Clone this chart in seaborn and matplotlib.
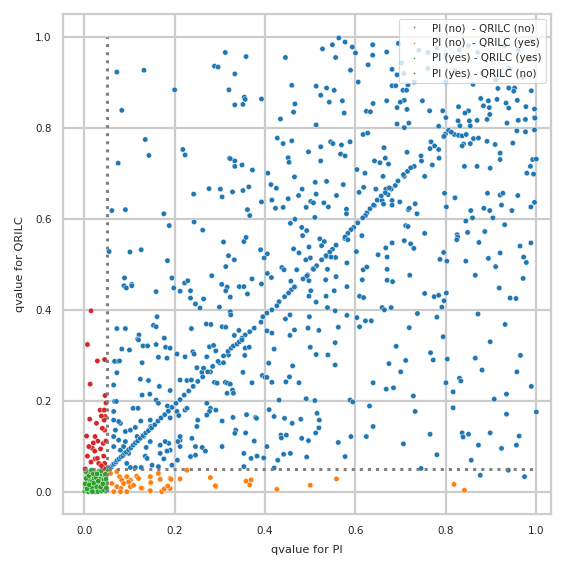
import numpy as np
import pandas as pd
import matplotlib
matplotlib.use("Agg")
import matplotlib.pyplot as plt
import seaborn as sns

# category names (legend order)
cats = ["PI (no)  - QRILC (no)", "PI (no)  - QRILC (yes)",
        "PI (yes) - QRILC (yes)", "PI (yes) - QRILC (no)"]

# PI (no) - QRILC (no): qvalue PI / qvalue QRILC
blue_pi = [
    0.072, 0.132, 0.200, 0.312, 0.288, 0.296, 0.320, 0.083, 0.135, 0.143, 0.218, 0.223, 0.075, 0.321,
    0.358, 0.333, 0.354, 0.356, 0.351, 0.333, 0.392, 0.445, 0.459, 0.466, 0.463, 0.434, 0.513,
    0.513, 0.536, 0.553, 0.523, 0.542, 0.571, 0.575,
    0.527, 0.549, 0.563, 0.577, 0.593, 0.600, 0.556, 0.589, 0.606,
    0.638, 0.638, 0.669, 0.628, 0.639, 0.669, 0.624, 0.633, 0.617, 0.627,
    0.427, 0.440, 0.459, 0.451, 0.453, 0.496, 0.523, 0.545, 0.550, 0.569, 0.588, 0.567, 0.577, 0.523,
    0.323, 0.333, 0.333, 0.349, 0.372, 0.406, 0.465, 0.603, 0.621,
    0.663, 0.666, 0.642, 0.654, 0.673, 0.661,
    # upper right
    0.695, 0.702, 0.681, 0.692, 0.707, 0.681, 0.689, 0.705, 0.716, 0.713,
    0.708, 0.699, 0.692, 0.714, 0.748, 0.764, 0.793, 0.828, 0.850, 0.842,
    0.877, 0.894, 0.913, 0.933, 0.958, 0.977, 0.996, 0.883, 0.896, 0.939,
    0.915, 0.939, 0.952, 0.989, 0.996, 0.692, 0.708, 0.718,
    0.784, 0.800, 0.827, 0.831, 0.854, 0.852, 0.869, 0.891, 0.897,
    0.935, 0.960, 0.976, 0.997, 0.957, 0.976, 0.996,
    0.799, 0.806, 0.819, 0.828, 0.836, 0.845, 0.861, 0.872, 0.839, 0.854, 0.836, 0.795,
    0.891, 0.909, 0.920, 0.948, 0.767, 0.775, 0.784, 0.785,
    0.714, 0.746, 0.730, 0.715, 0.708, 0.753, 0.770,
    0.841, 0.869, 0.898, 0.920, 0.992, 0.987, 0.979, 0.994, 1.000,
    # behind the legend
    0.740, 0.760, 0.780, 0.800, 0.830, 0.850, 0.870, 0.900, 0.930, 0.960, 0.985,
    0.760, 0.820, 0.880, 0.940, 0.970, 0.730, 0.800, 0.860, 0.910, 0.990, 0.950,
    # left middle
    0.061, 0.091, 0.176, 0.242, 0.276, 0.301, 0.305, 0.188, 0.243, 0.262, 0.308, 0.319, 0.313,
    0.055, 0.101, 0.126, 0.184, 0.089, 0.088, 0.093, 0.105, 0.105,
    0.194, 0.198, 0.212, 0.222, 0.229, 0.235, 0.159, 0.282, 0.304, 0.316, 0.313,
    0.235, 0.246, 0.256, 0.264, 0.299, 0.161, 0.153, 0.159, 0.072, 0.091, 0.121, 0.118, 0.177,
    0.237, 0.270, 0.280, 0.305, 0.313,
    # centre
    0.328, 0.351, 0.364, 0.361, 0.366,
    0.413, 0.425, 0.392, 0.415, 0.423, 0.440, 0.451, 0.474, 0.482, 0.511, 0.536, 0.513, 0.501, 0.507,
    0.491, 0.530, 0.540, 0.510, 0.558, 0.573,
    0.608, 0.618, 0.645, 0.667, 0.672, 0.659, 0.662, 0.642, 0.580, 0.580,
    0.625, 0.622, 0.616, 0.605, 0.596, 0.590, 0.583, 0.576, 0.557, 0.549, 0.543, 0.535, 0.525, 0.514,
    0.506, 0.494, 0.491, 0.465, 0.458, 0.452, 0.443, 0.431, 0.426, 0.415, 0.404, 0.395, 0.391, 0.376,
    0.366, 0.356, 0.349,
    0.456, 0.466, 0.481, 0.492, 0.483, 0.521, 0.531, 0.525, 0.463, 0.475, 0.497, 0.500, 0.490, 0.507,
    0.538, 0.556, 0.546, 0.535, 0.577, 0.583, 0.602, 0.614, 0.581,
    0.353, 0.358, 0.332, 0.390, 0.405, 0.398, 0.437, 0.442, 0.470, 0.405, 0.414, 0.371, 0.343, 0.353,
    0.361, 0.392, 0.457, 0.465, 0.484, 0.493, 0.497, 0.501, 0.497, 0.513, 0.535, 0.534, 0.557, 0.553,
    0.581, 0.538, 0.555, 0.581, 0.323, 0.323, 0.324,
    0.617, 0.625, 0.615, 0.609, 0.618, 0.667, 0.650, 0.670, 0.670, 0.670, 0.659, 0.664, 0.603, 0.609,
    0.622, 0.635, 0.562, 0.519, 0.495, 0.498, 0.455, 0.445, 0.465, 0.455, 0.415, 0.404, 0.332, 0.342,
    # right middle
    0.679, 0.688, 0.681, 0.681, 0.698, 0.717, 0.719, 0.732, 0.736,
    0.797, 0.820, 0.801, 0.855, 0.859, 0.844, 0.897, 0.904, 0.884, 0.892, 0.920, 0.926, 0.959, 0.923,
    0.946, 0.988, 0.996, 0.930, 0.886, 0.848,
    0.711, 0.716, 0.753, 0.825, 0.826, 0.824, 0.873, 0.988, 0.964, 0.920, 0.972, 0.978, 0.681, 0.708,
    0.722, 0.729, 0.795, 0.787, 0.802, 0.844, 0.894, 0.910, 0.865, 0.918, 0.971, 0.942, 0.955, 0.720,
    0.682, 0.753, 0.774, 0.784, 0.801, 0.796, 0.791, 0.679, 0.737, 0.780, 0.719, 0.871, 0.931, 0.794,
    0.632, 0.640, 0.648, 0.657, 0.666, 0.675, 0.694, 0.706, 0.722, 0.745, 0.765, 0.796, 0.812,
    # lower left
    0.083, 0.100, 0.120, 0.130, 0.140, 0.159, 0.180, 0.190, 0.205, 0.223, 0.240, 0.243, 0.277, 0.286,
    0.291, 0.271, 0.299, 0.308, 0.319, 0.164, 0.183, 0.074, 0.067, 0.078, 0.072, 0.128, 0.065, 0.124,
    0.142, 0.166, 0.190, 0.212, 0.227, 0.237, 0.249, 0.260, 0.264, 0.279, 0.288, 0.294, 0.312, 0.317,
    0.316, 0.271, 0.249, 0.279, 0.277, 0.305, 0.305, 0.246, 0.238, 0.212, 0.212, 0.207, 0.187, 0.190,
    0.168, 0.146, 0.135, 0.139, 0.150, 0.164, 0.126, 0.113, 0.102, 0.094, 0.087, 0.080, 0.076, 0.065,
    0.069, 0.080, 0.076, 0.091, 0.102, 0.113, 0.125, 0.146, 0.147, 0.119, 0.128, 0.145, 0.159, 0.164,
    0.184, 0.186, 0.190, 0.205, 0.209, 0.223, 0.227, 0.271, 0.291, 0.251, 0.261, 0.268, 0.246, 0.235,
    0.212, 0.206, 0.194, 0.183, 0.176, 0.168, 0.179, 0.137, 0.087, 0.065, 0.065, 0.065, 0.067, 0.071,
    0.108, 0.117, 0.091, 0.098, 0.131,
    0.052, 0.056, 0.060, 0.063, 0.066, 0.070, 0.073, 0.077, 0.081, 0.085, 0.089, 0.093, 0.098, 0.103,
    0.108, 0.113, 0.118, 0.124, 0.130, 0.136, 0.142, 0.149, 0.156, 0.163, 0.170, 0.178, 0.186, 0.194,
    0.203, 0.212, 0.221, 0.231, 0.241, 0.251, 0.262, 0.273, 0.284, 0.296, 0.308, 0.318,
    0.325, 0.330, 0.338, 0.343, 0.349, 0.356, 0.365, 0.355,
    # lower centre
    0.351, 0.371, 0.323, 0.328, 0.330, 0.394, 0.400, 0.404, 0.415, 0.408, 0.420, 0.446, 0.454, 0.461,
    0.475, 0.500, 0.513, 0.539, 0.555, 0.555, 0.431, 0.491, 0.510, 0.588, 0.594, 0.631, 0.639, 0.668,
    0.674, 0.329, 0.359, 0.379, 0.381, 0.335, 0.333, 0.357, 0.376, 0.409, 0.420, 0.443, 0.460, 0.479,
    0.515, 0.520, 0.519, 0.512, 0.435, 0.447, 0.436, 0.481, 0.496, 0.562, 0.590, 0.624, 0.639, 0.404,
    0.353, 0.369, 0.382, 0.397, 0.428, 0.441, 0.456, 0.492, 0.577, 0.420, 0.353,
    # lower right
    0.684, 0.700, 0.728, 0.766, 0.772, 0.800, 0.830, 0.833, 0.816, 0.816, 0.880, 0.865, 0.898, 0.907,
    0.923, 0.956, 0.962, 1.000, 0.898, 0.934, 0.850, 0.856, 0.765, 0.732, 0.706, 0.803, 0.934, 0.965,
    0.989, 0.872, 0.836, 0.838, 0.938, 0.876, 0.690, 0.745, 0.974, 0.780, 0.711, 0.957,
]
blue_qr = [
    0.922, 0.926, 0.883, 0.965, 0.935, 0.933, 0.883, 0.838, 0.774, 0.739, 0.752, 0.740, 0.722, 0.733,
    0.956, 0.918, 0.867, 0.862, 0.851, 0.850, 0.863, 0.954, 0.893, 0.852, 0.834, 0.819, 0.806,
    0.891, 0.887, 0.882, 0.871, 0.856, 0.859, 0.832,
    0.973, 0.982, 0.997, 0.988, 0.977, 0.964, 0.954, 0.926, 0.900,
    0.982, 0.959, 0.966, 0.938, 0.853, 0.859, 0.836, 0.835, 0.785, 0.788,
    0.777, 0.765, 0.771, 0.734, 0.724, 0.747, 0.758, 0.769, 0.765, 0.762, 0.769, 0.742, 0.738, 0.727,
    0.732, 0.727, 0.715, 0.718, 0.707, 0.700, 0.692, 0.708, 0.700,
    0.756, 0.733, 0.727, 0.723, 0.720, 0.693,
    0.985, 0.942, 0.928, 0.916, 0.919, 0.892, 0.892, 0.882, 0.894, 0.882,
    0.860, 0.856, 0.844, 0.840, 0.859, 0.837, 0.837, 0.846, 0.837, 0.832,
    0.864, 0.859, 0.862, 0.854, 0.860, 0.846, 0.841, 0.848, 0.844, 0.843,
    0.886, 0.887, 0.887, 0.881, 0.822, 0.808, 0.800, 0.810,
    0.803, 0.822, 0.815, 0.804, 0.804, 0.815, 0.816, 0.818, 0.829,
    0.810, 0.816, 0.818, 0.821, 0.793, 0.791, 0.795,
    0.786, 0.794, 0.785, 0.783, 0.782, 0.785, 0.776, 0.777, 0.764, 0.765, 0.760, 0.780,
    0.770, 0.763, 0.744, 0.766, 0.769, 0.760, 0.752, 0.733,
    0.746, 0.727, 0.715, 0.704, 0.693, 0.693, 0.718,
    0.715, 0.715, 0.711, 0.730, 0.730, 0.715, 0.700, 0.698, 0.731,
    0.970, 0.965, 0.975, 0.960, 0.970, 0.980, 0.965, 0.950, 0.980, 0.970, 0.950,
    0.930, 0.925, 0.920, 0.930, 0.910, 0.900, 0.900, 0.895, 0.905, 0.990, 0.880,
    0.618, 0.620, 0.611, 0.654, 0.666, 0.665, 0.648, 0.585, 0.593, 0.575, 0.549, 0.519, 0.495,
    0.528, 0.527, 0.532, 0.508, 0.470, 0.453, 0.448, 0.456, 0.453,
    0.470, 0.448, 0.441, 0.459, 0.464, 0.442, 0.440, 0.475, 0.456, 0.450, 0.442,
    0.426, 0.413, 0.404, 0.424, 0.406, 0.385, 0.366, 0.363, 0.359, 0.359, 0.345, 0.336, 0.338,
    0.359, 0.369, 0.368, 0.363, 0.362,
    0.659, 0.662, 0.670, 0.620, 0.607,
    0.675, 0.667, 0.637, 0.641, 0.623, 0.625, 0.644, 0.651, 0.665, 0.680, 0.682, 0.654, 0.638, 0.635,
    0.625, 0.635, 0.626, 0.603, 0.651, 0.675,
    0.658, 0.669, 0.665, 0.665, 0.653, 0.640, 0.632, 0.629, 0.621, 0.611,
    0.613, 0.607, 0.602, 0.591, 0.581, 0.576, 0.568, 0.557, 0.542, 0.533, 0.527, 0.517, 0.510, 0.497,
    0.491, 0.477, 0.473, 0.451, 0.444, 0.437, 0.429, 0.418, 0.409, 0.400, 0.393, 0.385, 0.373, 0.360,
    0.352, 0.345, 0.338,
    0.590, 0.599, 0.581, 0.574, 0.563, 0.556, 0.550, 0.541, 0.534, 0.525, 0.538, 0.514, 0.510, 0.489,
    0.489, 0.515, 0.516, 0.519, 0.560, 0.554, 0.528, 0.563, 0.503,
    0.550, 0.559, 0.510, 0.532, 0.523, 0.514, 0.493, 0.488, 0.488, 0.480, 0.471, 0.468, 0.451, 0.451,
    0.435, 0.457, 0.463, 0.450, 0.468, 0.475, 0.464, 0.442, 0.430, 0.417, 0.430, 0.466, 0.473, 0.442,
    0.451, 0.405, 0.398, 0.388, 0.428, 0.396, 0.389,
    0.488, 0.494, 0.466, 0.430, 0.427, 0.536, 0.521, 0.516, 0.489, 0.465, 0.405, 0.400, 0.383, 0.363,
    0.376, 0.376, 0.362, 0.355, 0.360, 0.385, 0.389, 0.380, 0.356, 0.344, 0.349, 0.354, 0.344, 0.355,
    0.665, 0.673, 0.640, 0.630, 0.637, 0.620, 0.623, 0.633, 0.611,
    0.656, 0.646, 0.626, 0.618, 0.602, 0.595, 0.618, 0.602, 0.623, 0.656, 0.652, 0.656, 0.651, 0.630,
    0.618, 0.626, 0.636, 0.587, 0.572, 0.570,
    0.585, 0.583, 0.568, 0.565, 0.560, 0.554, 0.548, 0.547, 0.540, 0.525, 0.516, 0.504, 0.547, 0.552,
    0.545, 0.535, 0.526, 0.511, 0.507, 0.507, 0.513, 0.495, 0.476, 0.448, 0.469, 0.426, 0.425, 0.476,
    0.462, 0.436, 0.429, 0.432, 0.437, 0.420, 0.406, 0.405, 0.392, 0.384, 0.361, 0.391, 0.368, 0.341,
    0.622, 0.630, 0.641, 0.650, 0.657, 0.668, 0.683, 0.697, 0.712, 0.738, 0.754, 0.781, 0.790,
    0.314, 0.312, 0.334, 0.321, 0.321, 0.324, 0.318, 0.316, 0.303, 0.297, 0.308, 0.303, 0.319, 0.322,
    0.310, 0.297, 0.284, 0.284, 0.301, 0.296, 0.294, 0.287, 0.287, 0.288, 0.262, 0.284, 0.235, 0.248,
    0.245, 0.232, 0.223, 0.246, 0.245, 0.246, 0.273, 0.263, 0.272, 0.264, 0.241, 0.239, 0.241, 0.239,
    0.217, 0.195, 0.144, 0.184, 0.177, 0.156, 0.100, 0.100, 0.118, 0.114, 0.122, 0.111, 0.107, 0.092,
    0.103, 0.111, 0.079, 0.074, 0.059, 0.056, 0.054, 0.054, 0.054, 0.063, 0.081, 0.092, 0.114, 0.122,
    0.136, 0.151, 0.155, 0.133, 0.136, 0.142, 0.156, 0.158, 0.144, 0.184, 0.213, 0.215, 0.202, 0.195,
    0.189, 0.177, 0.163, 0.177, 0.168, 0.180, 0.184, 0.169, 0.180, 0.158, 0.098, 0.090, 0.081, 0.078,
    0.100, 0.070, 0.059, 0.090, 0.073, 0.085, 0.111, 0.098, 0.100, 0.100, 0.158, 0.177, 0.199, 0.199,
    0.184, 0.122, 0.111, 0.085, 0.122,
    0.047, 0.052, 0.055, 0.060, 0.062, 0.066, 0.070, 0.073, 0.077, 0.080, 0.085, 0.088, 0.093, 0.097,
    0.103, 0.108, 0.112, 0.118, 0.124, 0.130, 0.135, 0.141, 0.148, 0.156, 0.163, 0.170, 0.178, 0.186,
    0.195, 0.203, 0.213, 0.222, 0.232, 0.243, 0.253, 0.264, 0.276, 0.287, 0.299, 0.309,
    0.316, 0.321, 0.325, 0.330, 0.334, 0.316, 0.318, 0.300,
    0.263, 0.240, 0.237, 0.224, 0.217, 0.256, 0.252, 0.252, 0.241, 0.283, 0.314, 0.242, 0.253, 0.277,
    0.240, 0.318, 0.302, 0.301, 0.328, 0.279, 0.202, 0.205, 0.201, 0.202, 0.198, 0.189, 0.240, 0.226,
    0.282, 0.164, 0.170, 0.164, 0.162, 0.136, 0.129, 0.130, 0.112, 0.181, 0.166, 0.162, 0.151, 0.160,
    0.173, 0.158, 0.141, 0.130, 0.125, 0.125, 0.119, 0.118, 0.113, 0.109, 0.122, 0.122, 0.144, 0.100,
    0.085, 0.074, 0.079, 0.075, 0.070, 0.083, 0.085, 0.077, 0.078, 0.053, 0.056,
    0.229, 0.264, 0.211, 0.306, 0.290, 0.240, 0.250, 0.244, 0.220, 0.185, 0.268, 0.294, 0.330, 0.204,
    0.096, 0.103, 0.123, 0.176, 0.130, 0.171, 0.127, 0.070, 0.127, 0.177, 0.106, 0.292, 0.215, 0.300,
    0.232, 0.103, 0.130, 0.121, 0.048, 0.037, 0.320, 0.052, 0.034, 0.082, 0.289, 0.264,
]

# PI (no) - QRILC (yes)
orange_pi = [0.058, 0.072, 0.078, 0.083, 0.094, 0.102, 0.116, 0.120, 0.146, 0.164, 0.168, 0.190, 0.212,
             0.227, 0.279, 0.291, 0.128, 0.146, 0.172, 0.183, 0.190, 0.061, 0.072, 0.081, 0.094, 0.102,
             0.109, 0.065, 0.080, 0.050, 0.087, 0.098, 0.358, 0.369, 0.366, 0.426, 0.500, 0.558,
             0.818, 0.841, 0.290, 0.126, 0.147, 0.146, 0.171, 0.177, 0.185, 0.192]
orange_qr = [0.041, 0.045, 0.034, 0.026, 0.034, 0.026, 0.035, 0.030, 0.034, 0.041, 0.028, 0.030, 0.029,
             0.048, 0.032, 0.012, 0.008, 0.003, 0.001, 0.012, 0.008, 0.019, 0.012, 0.008, 0.001, 0.012,
             0.015, 0.001, 0.001, 0.004, 0.019, 0.022, 0.024, 0.027, 0.016, 0.006, 0.015, 0.029,
             0.017, 0.004, 0.014, 0.009, 0.021, 0.003, 0.001, 0.007, 0.013, 0.028]

# PI (yes) - QRILC (yes)
green_pi = [0.001, 0.003, 0.005, 0.006, 0.008, 0.009, 0.011, 0.012, 0.014, 0.015, 0.017, 0.018, 0.019,
            0.021, 0.022, 0.024, 0.025, 0.026, 0.028, 0.029, 0.031, 0.032, 0.033, 0.035, 0.036, 0.037,
            0.039, 0.040, 0.041, 0.043, 0.044, 0.045, 0.046, 0.047, 0.048, 0.049, 0.004, 0.007, 0.002,
            0.010, 0.013, 0.016, 0.020, 0.023, 0.027, 0.030, 0.034, 0.038, 0.042, 0.044, 0.016, 0.026,
            0.036, 0.046, 0.006, 0.011, 0.021, 0.031, 0.041, 0.049, 0.003, 0.018, 0.028, 0.038, 0.048]
green_qr = [0.002, 0.010, 0.004, 0.020, 0.013, 0.001, 0.028, 0.008, 0.017, 0.003, 0.036, 0.024, 0.011,
            0.005, 0.030, 0.016, 0.042, 0.001, 0.022, 0.009, 0.034, 0.014, 0.046, 0.004, 0.026, 0.019,
            0.038, 0.008, 0.030, 0.012, 0.044, 0.021, 0.002, 0.034, 0.016, 0.048, 0.030, 0.041, 0.018,
            0.036, 0.045, 0.048, 0.040, 0.001, 0.012, 0.001, 0.028, 0.002, 0.005, 0.027, 0.010, 0.032,
            0.011, 0.040, 0.007, 0.016, 0.020, 0.024, 0.018, 0.009, 0.045, 0.001, 0.040, 0.047, 0.029]

# PI (yes) - QRILC (no)
red_pi = [0.015, 0.007, 0.029, 0.045, 0.013, 0.046, 0.048, 0.035, 0.044, 0.046, 0.044, 0.012, 0.027,
          0.045, 0.005, 0.024, 0.018, 0.023, 0.042, 0.007, 0.024, 0.029, 0.043, 0.045, 0.032, 0.002,
          0.043, 0.038, 0.040, 0.030, 0.020, 0.036, 0.010, 0.048, 0.015, 0.038]
red_qr = [0.398, 0.324, 0.288, 0.291, 0.237, 0.212, 0.196, 0.180, 0.180, 0.166, 0.158, 0.160, 0.151,
          0.136, 0.123, 0.122, 0.096, 0.090, 0.107, 0.079, 0.073, 0.074, 0.079, 0.063, 0.063, 0.051,
          0.052, 0.167, 0.140, 0.112, 0.108, 0.095, 0.100, 0.112, 0.066, 0.058]

df = pd.concat([
    pd.DataFrame({"PI": blue_pi, "QRILC": blue_qr, "group": cats[0]}),
    pd.DataFrame({"PI": orange_pi, "QRILC": orange_qr, "group": cats[1]}),
    pd.DataFrame({"PI": green_pi, "QRILC": green_qr, "group": cats[2]}),
    pd.DataFrame({"PI": red_pi, "QRILC": red_qr, "group": cats[3]}),
], ignore_index=True)

sns.set_theme(context="paper", style="whitegrid", font_scale=0.85)
plt.rcParams["grid.linewidth"] = 1.6
plt.rcParams["axes.linewidth"] = 1.6

fig = plt.figure(figsize=(5.73, 5.73), dpi=100)
ax = fig.add_axes([0.110, 0.103, 0.852, 0.873])

sns.scatterplot(data=df, x="PI", y="QRILC", hue="group", hue_order=cats,
                palette="tab10", s=15, ax=ax)

ax.plot([0.05, 0.05], [0, 1], ":", color="grey", lw=2.2)
ax.plot([0, 1], [0.05, 0.05], ":", color="grey", lw=2.2)

ax.set_xlim(-0.047, 1.033)
ax.set_ylim(-0.048, 1.05)
ax.set_xlabel("qvalue for PI", labelpad=7)
ax.set_ylabel("qvalue for QRILC", labelpad=7)

handles, labels = ax.get_legend_handles_labels()
ax.legend(handles, labels, loc="upper right", markerscale=0.35)

plt.savefig("out.png", dpi=100)
